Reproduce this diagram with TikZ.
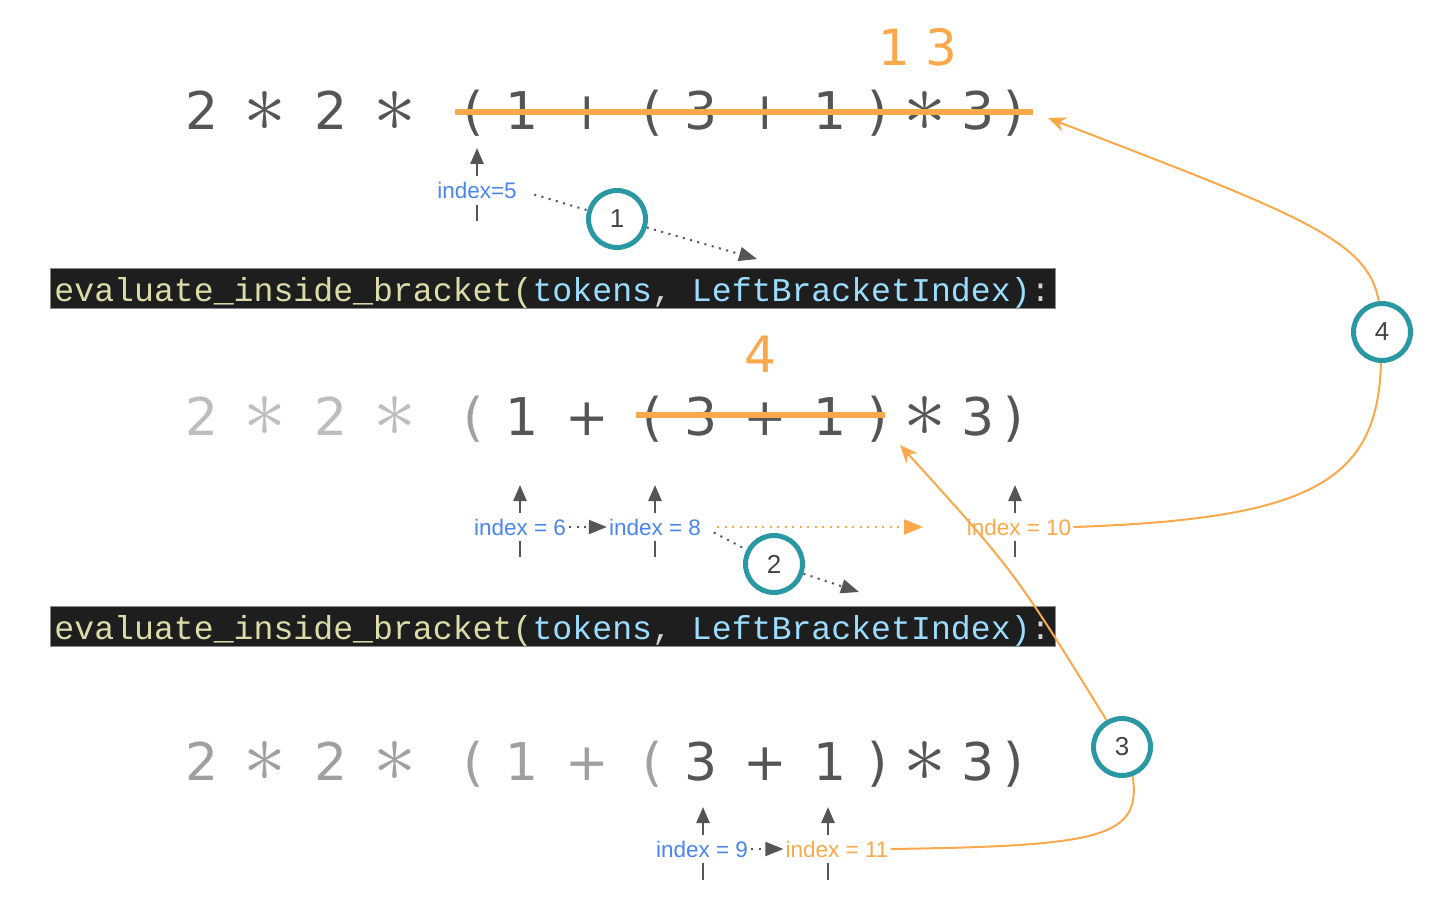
\documentclass[tikz,border=0pt]{standalone}
\usepackage{fix-cm}
\usepackage{fontspec}
\setmainfont{DejaVu Sans}
\newfontfamily\codefont{Liberation Mono}
\newfontfamily\lblfont{Liberation Sans}
\usetikzlibrary{arrows.meta}
\definecolor{tokdark}{HTML}{555555}
\definecolor{toklight}{HTML}{BDBDBD}
\definecolor{tokmid}{HTML}{A0A0A0}
\definecolor{orng}{HTML}{F9A94B}
\definecolor{idxblue}{HTML}{4A84F0}
\definecolor{circteal}{HTML}{2A98A3}
\definecolor{circtext}{HTML}{444444}
\definecolor{codebg}{HTML}{1E1E1E}
\definecolor{codeframe}{HTML}{8A8A8A}
\definecolor{codefn}{HTML}{DCDCAA}
\definecolor{codeparam}{HTML}{9CDCFE}
\definecolor{codepunc}{HTML}{D4D4D4}
\definecolor{arrgray}{HTML}{555555}
\tikzset{
  tok/.style={font=\fontsize{52}{60}\selectfont, inner sep=0pt, anchor=base},
  startok/.style={font=\fontsize{86}{90}\selectfont, inner sep=0pt, anchor=center},
  restok/.style={font=\fontsize{50}{58}\selectfont, inner sep=0pt, anchor=base, text=orng},
  strike/.style={draw=orng, line width=6pt},
  codebox/.style={fill=codebg, draw=codeframe, line width=0.8pt, inner sep=0pt,
    minimum width=1005pt, minimum height=40pt, text height=27pt, text depth=1pt,
    font=\codefont\fontsize{33.2}{36}\selectfont},
  lbl/.style={font=\lblfont\fontsize{22.5}{26}\selectfont, inner sep=2pt},
  bluelbl/.style={lbl, text=idxblue},
  orlbl/.style={lbl, text=orng},
  circ/.style={circle, draw=circteal, line width=5pt, fill=white, minimum size=57pt,
    inner sep=0pt, text=circtext, font=\lblfont\fontsize{26}{30}\selectfont},
  uparr/.style={draw=arrgray, line width=2.5pt, -{Triangle[length=16pt, width=13pt]}},
  tickln/.style={draw=arrgray, line width=2.5pt},
  dotc/.style={draw=arrgray, line width=2pt, dash pattern=on 2pt off 5.5pt},
  dotarr/.style={dotc, -{Triangle[length=18pt, width=14pt]}},
  odot/.style={draw=orng, line width=2pt, dash pattern=on 2pt off 5.5pt,
    -{Triangle[length=19pt, width=15pt, fill=orng]}},
  ocurve/.style={draw=orng, line width=2pt},
  oarr/.style={ocurve, -{Stealth[length=18pt, width=15pt, inset=6pt, fill=orng]}},
}
\newcommand{\astk}{$\ast$}
\begin{document}
\begin{tikzpicture}[x=1pt, y=-1pt]
\useasboundingbox (0,0) rectangle (1430,904);

% ---------- row 1 ----------
\foreach \x/\t [count=\i] in {202/2,331/2,474/(,522/1,587/+,653/(,701/3,765/+,830/1,878/),978/3,1014/)}
  \node[tok, text=tokdark] (ra\i) at (\x,130) {\t};
\foreach \x [count=\i] in {265,395,925}
  \node[startok, text=tokdark] (ras\i) at (\x,111) {\astk};
\draw[strike] (455,112) -- (1033,112);
\node[restok] (res13) at (918,66) {1 3};

% ---------- code box 1 ----------
\node[codebox] (code1) at (552.5,288) {\color{codefn}evaluate\_inside\_bracket(\color{codeparam}tokens\color{codepunc}, \color{codeparam}LeftBracketIndex)\color{codepunc}:};

% ---------- row 2 ----------
\foreach \x/\t/\c [count=\i] in {202/2/toklight,331/2/toklight,474/(/tokmid,522/1/tokdark,587/+/tokdark,653/(/tokdark,701/3/tokdark,765/+/tokdark,830/1/tokdark,878/)/tokdark,978/3/tokdark,1014/)/tokdark}
  \node[tok, text=\c] (rb\i) at (\x,435) {\t};
\foreach \x/\c [count=\i] in {265/toklight,395/toklight,925/tokdark}
  \node[startok, text=\c] (rbs\i) at (\x,416) {\astk};
\draw[strike] (636,415) -- (885,415);
\node[restok] (res4) at (760,372) {4};

% ---------- code box 2 ----------
\node[codebox] (code2) at (552.5,626) {\color{codefn}evaluate\_inside\_bracket(\color{codeparam}tokens\color{codepunc}, \color{codeparam}LeftBracketIndex)\color{codepunc}:};

% ---------- row 3 ----------
\foreach \x/\t/\c [count=\i] in {202/2/tokmid,331/2/tokmid,474/(/tokmid,522/1/tokmid,587/+/tokmid,653/(/tokmid,701/3/tokdark,765/+/tokdark,830/1/tokdark,878/)/tokdark,978/3/tokdark,1014/)/tokdark}
  \node[tok, text=\c] (rc\i) at (\x,780) {\t};
\foreach \x/\c [count=\i] in {265/tokmid,395/tokmid,925/tokdark}
  \node[startok, text=\c] (rcs\i) at (\x,761) {\astk};

% ---------- index labels ----------
\node[bluelbl] (idx5) at (477,190) {index=5};
\node[bluelbl] (idx6) at (520,527) {index = 6};
\node[bluelbl] (idx8) at (655,527) {index = 8};
\node[orlbl] (idx10) at (1019,527) {index = 10};
\node[bluelbl] (idx9) at (702,849) {index = 9};
\node[orlbl] (idx11) at (837,849) {index = 11};

% up arrows and ticks
\draw[uparr] (477,176) -- (477,148);
\draw[tickln] (477,205) -- (477,221);
\foreach \x in {520,655,1015}{
  \draw[uparr] (\x,513) -- (\x,485);
  \draw[tickln] (\x,541) -- (\x,557);
}
\foreach \x in {703,828}{
  \draw[uparr] (\x,835) -- (\x,807);
  \draw[tickln] (\x,863) -- (\x,880);
}

% ---------- step circles ----------
\node[circ] (c1) at (617,219) {1};
\node[circ] (c2) at (774,564) {2};
\node[circ] (c3) at (1122,747) {3};
\node[circ] (c4) at (1382,332) {4};

% ---------- target coordinates ----------
\coordinate (t1) at (757,259);
\coordinate (t2) at (859,592);
\coordinate (o8end) at (923,527);
\coordinate (r1end) at (1048,118);
\coordinate (r2end) at (900,445);

% ---------- orange curves ----------
\draw[ocurve] (idx11.east) .. controls (1100,846) and (1142,838) .. (c3.-70);
\draw[oarr] (c3.120) .. controls (1015,572) .. (r2end);
\draw[ocurve] (idx10.east) .. controls (1310,519) and (1378,482) .. (c4.-92);
\draw[oarr] (c4.96) .. controls (1368,240) and (1300,215) .. (r1end);

% ---------- dotted connectors ----------
\draw[dotc, shorten <=16pt] (idx5.east) -- (c1);
\draw[dotarr] (c1) -- (t1);
\draw[dotarr, shorten <=1pt] (idx6.east) -- (idx8.west);
\draw[odot, shorten <=14pt] (idx8.east) -- (o8end);
\draw[dotc, shorten <=12pt] (idx8.east) -- (c2);
\draw[dotarr] (c2) -- (t2);
\draw[dotarr, shorten <=1pt] (idx9.east) -- (idx11.west);
\end{tikzpicture}
\end{document}
